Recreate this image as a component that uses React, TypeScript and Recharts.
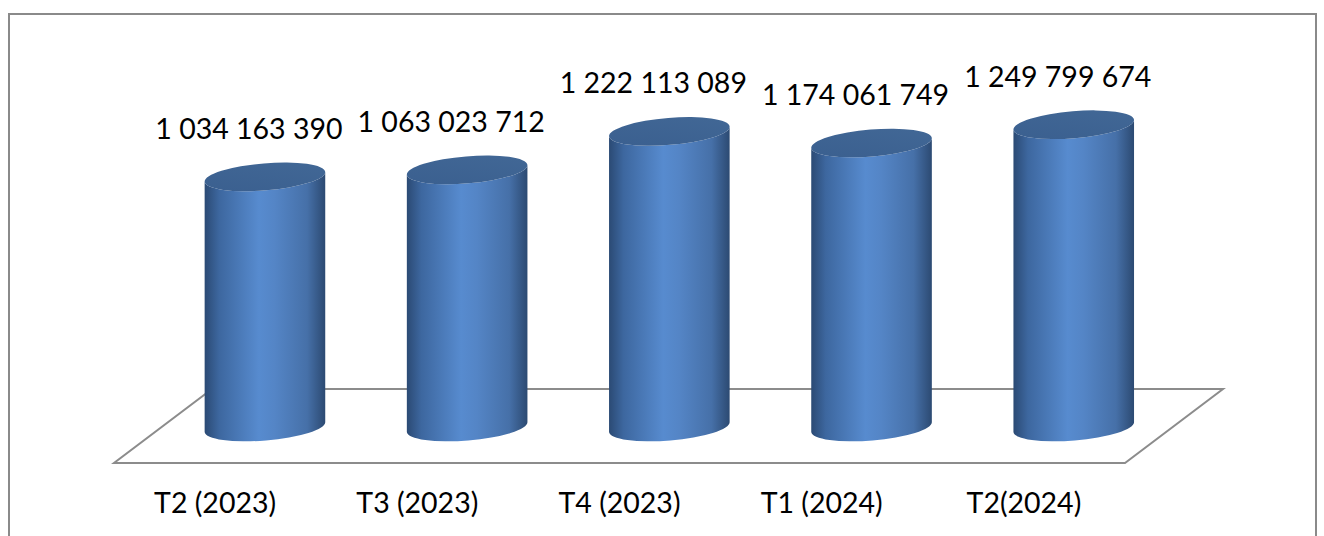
import React from 'react';
import { BarChart, Bar, XAxis, YAxis, LabelList, ReferenceArea } from 'recharts';

const categories = ['T2 (2023)', 'T3 (2023)', 'T4 (2023)', 'T1 (2024)', 'T2(2024)'];
const values = [1034163390, 1063023712, 1222113089, 1174061749, 1249799674];

const data = categories.map((name, i) => ({ name, value: values[i] }));

const FONT = 'Lato, "Open Sans", sans-serif';
const TILT = 4.7; // degrees, ellipse rotation
const RY = 13.5;

const fmt = (v: number) => String(v).replace(/\B(?=(\d{3})+(?!\d))/g, ' ');

const Cylinder = (props: any) => {
  const { x, y, width, height } = props;
  const rx = width / 2;
  const cx = x + rx;
  const ty = y;
  const by = y + height;
  const t = (TILT * Math.PI) / 180;
  const a = rx * Math.cos(t);
  const b = rx * Math.sin(t);
  const d = [
    `M ${cx - a} ${ty + b}`,
    `L ${cx - a} ${by + b}`,
    `A ${rx} ${RY} ${-TILT} 0 0 ${cx + a} ${by - b}`,
    `L ${cx + a} ${ty - b}`,
    `A ${rx} ${RY} ${-TILT} 0 1 ${cx - a} ${ty + b}`,
    'Z',
  ].join(' ');
  return (
    <g>
      <path d={d} fill="url(#cylBody)" />
      <ellipse
        cx={cx}
        cy={ty}
        rx={rx}
        ry={RY}
        fill="url(#cylTop)"
        transform={`rotate(${-TILT} ${cx} ${ty})`}
      />
    </g>
  );
};

// floor plane drawn from the plot area along the zero line
const Floor = (props: any) => {
  const { x, y, width, height } = props;
  const base = y + height;
  const front = base + 36;
  const back = base - 38;
  const pts = [
    [x - 50, front],
    [x - 50 + width, front],
    [x + 48 + width, back],
    [x + 48, back],
  ];
  return (
    <polygon
      points={pts.map((p) => p.join(',')).join(' ')}
      fill="none"
      stroke="#8c8c8c"
      strokeWidth={2}
    />
  );
};

const ValueLabel = (props: any) => {
  const { x, y, width, value } = props;
  return (
    <text
      x={x + width / 2 - 16}
      y={y - 38}
      textAnchor="middle"
      fontFamily={FONT}
      fontSize={28.5}
      fill="#000"
    >
      {fmt(value)}
    </text>
  );
};

const CategoryTick = (props: any) => {
  const { x, y, payload } = props;
  return (
    <text
      x={x - 50}
      y={y + 78}
      textAnchor="middle"
      fontFamily={FONT}
      fontSize={28.5}
      fill="#000"
    >
      {payload.value}
    </text>
  );
};

export default function App() {
  return (
    <div
      style={{
        position: 'absolute',
        left: 0,
        top: 0,
        width: 1324,
        height: 536,
        overflow: 'hidden',
        background: '#fff',
      }}
    >
      <div
        style={{
          position: 'absolute',
          left: 8,
          top: 13,
          width: 1305,
          height: 600,
          border: '2px solid #8a8a8a',
        }}
      />
      <div style={{ position: 'absolute', left: 0, top: 0 }}>
        <BarChart
          width={1324}
          height={536}
          data={data}
          margin={{ top: 40, right: 149, left: 164, bottom: 49 }}
          barCategoryGap="20%"
        >
          <defs>
            <linearGradient id="cylBody" x1="0" y1="0" x2="1" y2="0">
              <stop offset="0%" stopColor="#2b4a74" />
              <stop offset="12%" stopColor="#3d679f" />
              <stop offset="45%" stopColor="#578bcf" />
              <stop offset="58%" stopColor="#5485c6" />
              <stop offset="85%" stopColor="#4670a8" />
              <stop offset="100%" stopColor="#2c4a72" />
            </linearGradient>
            <linearGradient id="cylTop" x1="0" y1="1" x2="1" y2="0">
              <stop offset="0%" stopColor="#3a5f8f" />
              <stop offset="100%" stopColor="#426896" />
            </linearGradient>
          </defs>
          <XAxis
            dataKey="name"
            axisLine={false}
            tickLine={false}
            height={60}
            interval={0}
            tick={<CategoryTick />}
          />
          <YAxis hide domain={[0, 1600000000]} />
          <ReferenceArea y1={0} y2={100000000} shape={<Floor />} ifOverflow="visible" />
          <Bar dataKey="value" shape={<Cylinder />} isAnimationActive={false}>
            <LabelList dataKey="value" content={<ValueLabel />} />
          </Bar>
        </BarChart>
      </div>
    </div>
  );
}
